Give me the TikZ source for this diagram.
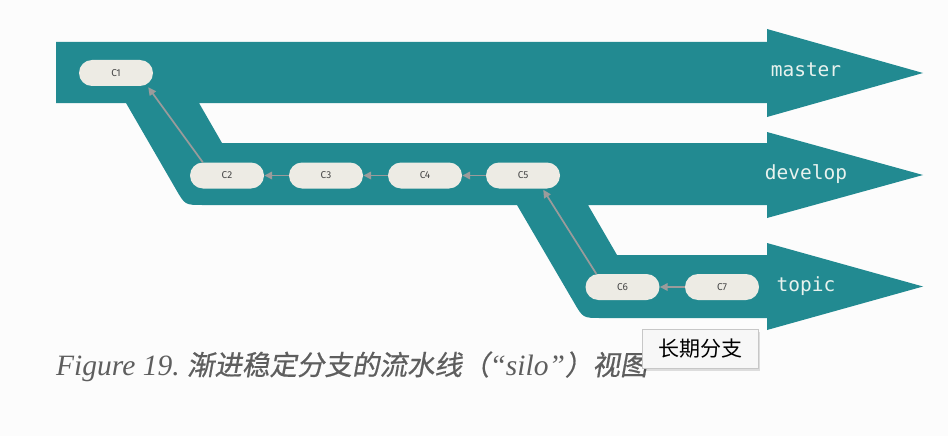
\documentclass[tikz,border=0pt]{standalone}
\usepackage{fontspec}
\usetikzlibrary{calc,arrows.meta,shadows}
\setmainfont{Liberation Serif}
\newfontfamily\cjk[FakeSlant=0.18,FakeBold=0.6]{Noto Sans CJK SC}
\newfontfamily\cjkup{Noto Sans CJK SC}
\newfontfamily\monofont{DejaVu Sans Mono}
\newfontfamily\commitfont{Fira Sans}
\definecolor{gitteal}{HTML}{228A91}
\definecolor{pillfill}{HTML}{EDEBE4}
\definecolor{arrgray}{HTML}{9B9B9B}
\definecolor{lbltext}{HTML}{E8F2EE}
\definecolor{captext}{HTML}{5E5E5E}
\tikzset{
  band/.style={fill=gitteal},
  commit/.style={rectangle, rounded corners=13pt, fill=pillfill, minimum width=74pt, minimum height=26pt, inner sep=0pt,
    font=\commitfont\fontsize{10}{11}\selectfont, text=black!72},
  arr/.style={draw=arrgray, line width=1.7pt, -{Triangle[length=8pt,width=7.5pt]}},
  lbl/.style={anchor=base, text=lbltext, font=\monofont\fontsize{19.5}{22}\selectfont, inner sep=0pt},
  tipbox/.style={rectangle, fill=black!3, draw=black!22, line width=0.6pt, minimum width=116pt, minimum height=39pt,
    inner sep=0pt, font=\cjkup\fontsize{21}{24}\selectfont, text=black,
    drop shadow={shadow xshift=1.5pt, shadow yshift=-3pt, opacity=0.12, fill=black}}
}
\begin{document}
\begin{tikzpicture}[x=1pt,y=-1pt]
\fill[black!1] (0,0) rectangle (948,436);
\useasboundingbox (0,0) rectangle (948,436);
% bands
\fill[band] (56,42) -- (767,42) -- (767,29) -- (923,73) -- (767,117) -- (767,103)
  -- (199,103) -- (222,143) -- (767,143) -- (767,132) -- (923,175) -- (767,218) -- (767,205)
  -- (588,205) -- (617,255) -- (767,255) -- (767,243) -- (923,286.5) -- (767,330) -- (767,318)
  -- (601,318) .. controls (583,318) .. (574,302.5) -- (517,205)
  -- (203,205) .. controls (185,205) .. (176,189.4) -- (126,103) -- (56,103) -- cycle;
% commits
\node[commit] (C1) at (116,73) {C1};
\node[commit] (C2) at (227,175.5) {C2};
\node[commit] (C3) at (326,175.5) {C3};
\node[commit] (C4) at (425,175.5) {C4};
\node[commit] (C5) at (523,175.5) {C5};
\node[commit] (C6) at (622.5,287) {C6};
\node[commit] (C7) at (722,287) {C7};
% connectors
\draw[arr] ($(C2.north west)+(13,0)$) -- ($(C1.south east)+(-5,1)$);
\draw[arr] (C3.west) -- (C2.east);
\draw[arr] (C4.west) -- (C3.east);
\draw[arr] (C5.west) -- (C4.east);
\draw[arr] ($(C6.north west)+(11,0)$) -- ($(C5.south east)+(-17,1)$);
\draw[arr] (C7.west) -- (C6.east);
% branch labels
\node[lbl] (lm) at (806,77) {master};
\node[lbl] (ld) at (806,179.5) {develop};
\node[lbl] (lt) at (806,291) {topic};
% caption
\node[anchor=base west, inner sep=0pt, text=captext, font=\fontsize{29.5}{32}\selectfont] (cap) at (56,375)
  {\itshape Figure 19.\ {\cjk\fontsize{27.5}{32}\selectfont 渐进稳定分支的流水线（}“silo”{\cjk\fontsize{27.5}{32}\selectfont ）视图}};
% tooltip
\node[tipbox] (tt) at (700,348.5) {长期分支};
\end{tikzpicture}
\end{document}
